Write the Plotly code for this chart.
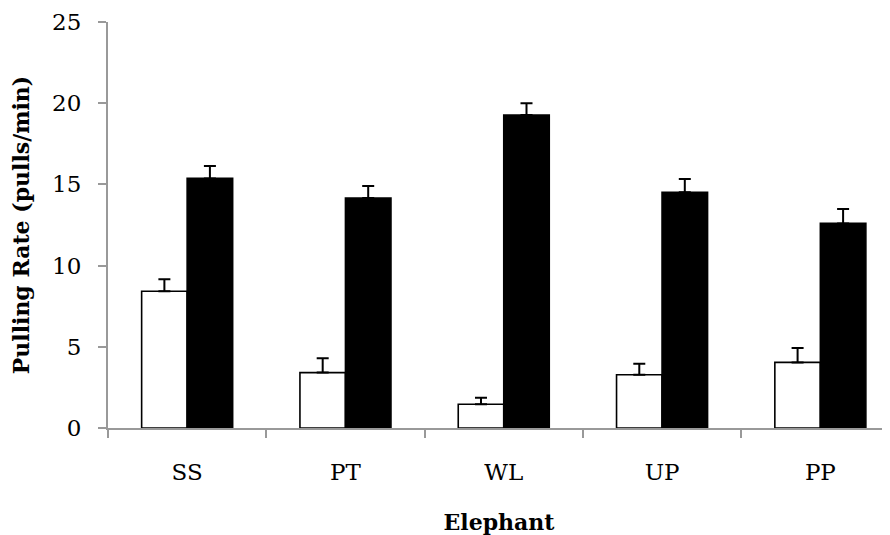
import plotly.graph_objects as go

categories = ["SS", "PT", "WL", "UP", "PP"]
white_values = [8.42, 3.41, 1.46, 3.28, 4.04]
white_errors = [0.74, 0.88, 0.41, 0.68, 0.88]
black_values = [15.37, 14.16, 19.27, 14.51, 12.6]
black_errors = [0.76, 0.74, 0.72, 0.82, 0.88]
y_ticks = [0, 5, 10, 15, 20, 25]

FONT = "DejaVu Serif"

fig = go.Figure()
fig.add_trace(go.Bar(
    x=categories, y=white_values, name="white",
    marker=dict(color="white", line=dict(color="black", width=1.6)),
    error_y=dict(type="data", array=white_errors, arrayminus=[0] * 5, symmetric=False,
                 color="black", thickness=2, width=6),
))
fig.add_trace(go.Bar(
    x=categories, y=black_values, name="black",
    marker=dict(color="black", line=dict(color="black", width=1.6)),
    error_y=dict(type="data", array=black_errors, arrayminus=[0] * 5, symmetric=False,
                 color="black", thickness=2, width=6),
))

fig.update_layout(
    width=882, height=527,
    margin=dict(l=100, r=0, t=14, b=107),
    paper_bgcolor="white", plot_bgcolor="white",
    showlegend=False,
    barmode="group", bargap=0.425, bargroupgap=0,
    font=dict(family=FONT, size=22, color="black"),
)
fig.update_xaxes(
    range=[-0.5, 4.44],
    showline=True, linecolor="#999999", linewidth=2,
    ticks="outside", tickson="boundaries", ticklen=8, tickcolor="#999999", tickwidth=2,
    tickfont=dict(family=FONT, size=23),
    ticklabelstandoff=22,
    title=dict(text="<b>Elephant</b>", font=dict(family=FONT, size=22), standoff=32),
    showgrid=False, zeroline=False, automargin=False,
)
fig.update_yaxes(
    range=[0, 25], tickvals=y_ticks,
    showline=True, linecolor="#999999", linewidth=2,
    ticks="outside", ticklen=8, tickcolor="#999999", tickwidth=2,
    tickfont=dict(family=FONT, size=23),
    ticklabelstandoff=12,
    title=dict(text="<b>Pulling Rate (pulls/min)</b>", font=dict(family=FONT, size=22), standoff=18),
    showgrid=False, zeroline=False, automargin=False,
)

fig.write_html("out.html")
